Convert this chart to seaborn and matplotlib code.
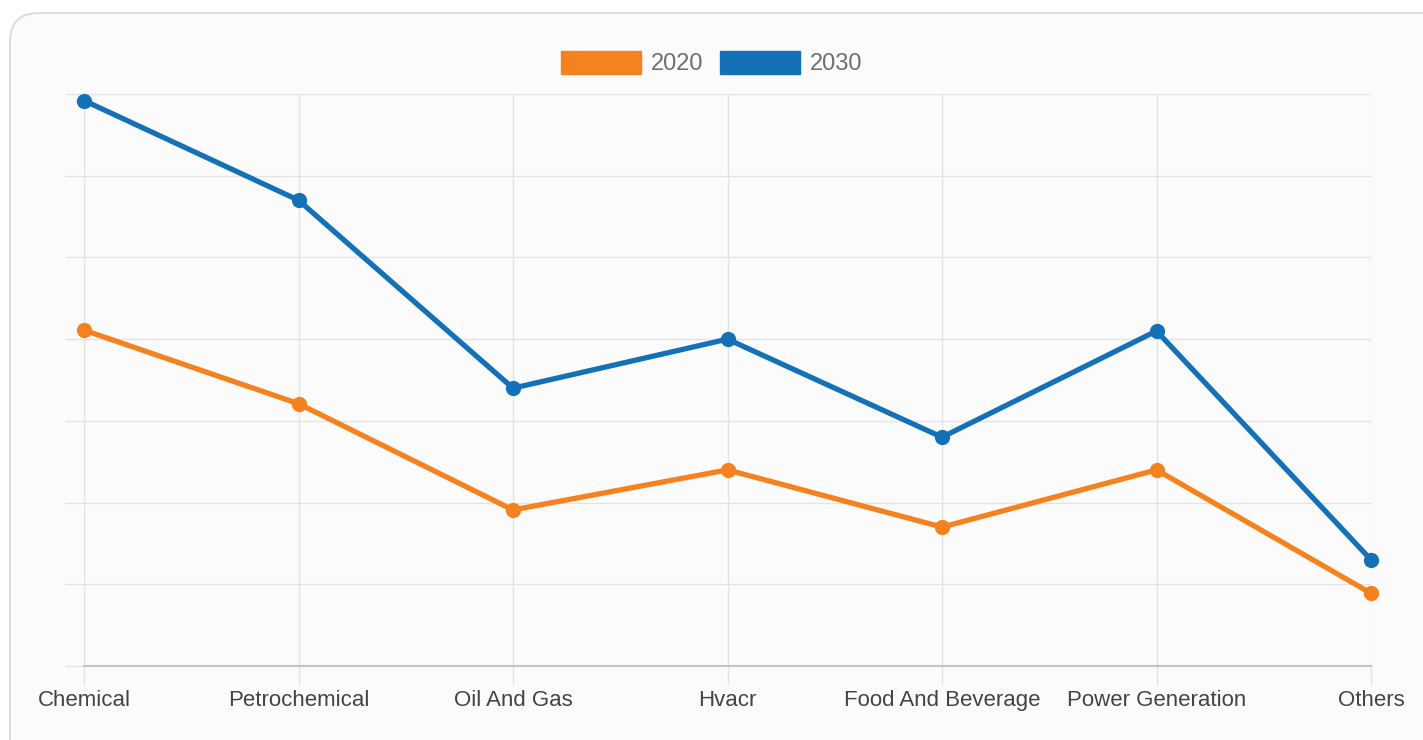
import matplotlib
matplotlib.use("Agg")
import matplotlib.pyplot as plt
import seaborn as sns
import pandas as pd
from matplotlib.patches import Patch, FancyBboxPatch

# data (units = gridline steps, axis has no value labels)
categories = ["Chemical", "Petrochemical", "Oil And Gas", "Hvacr",
              "Food And Beverage", "Power Generation", "Others"]
values_2020 = [4.11, 3.21, 1.91, 2.40, 1.70, 2.40, 0.89]
values_2030 = [6.92, 5.70, 3.40, 4.00, 2.80, 4.10, 1.30]
years = ["2020", "2030"]
colors = {"2020": "#f5821f", "2030": "#1471b8"}

df = pd.DataFrame({
    "segment": categories * 2,
    "value": values_2020 + values_2030,
    "year": [years[0]] * len(categories) + [years[1]] * len(categories),
})

sns.set_style("white")
plt.rcParams["font.family"] = ["Liberation Sans", "DejaVu Sans"]

fig = plt.figure(figsize=(14.23, 7.40), dpi=100)
fig.patch.set_facecolor("white")

# rounded card behind the chart
card = FancyBboxPatch((10 / 1423, -0.05), 1.2, 0.05 + 1 - 13 / 740,
                      boxstyle="round,pad=0,rounding_size=0.02",
                      transform=fig.transFigure, facecolor="#fbfbfb",
                      edgecolor="#dddddd", linewidth=1.5, zorder=-10,
                      mutation_aspect=1423 / 740)
fig.patches.append(card)

ax = fig.add_axes([84 / 1423, 1 - 666 / 740, (1371 - 84) / 1423, (666 - 94) / 740])
ax.set_facecolor("none")

sns.lineplot(data=df, x="segment", y="value", hue="year", palette=colors,
             marker="o", markersize=11, markeredgewidth=0, linewidth=3.8,
             sort=False, legend=False, ax=ax, zorder=3, clip_on=False)

ax.set_xlim(0, len(categories) - 1)
ax.set_ylim(0, 7)
ax.set_yticks(range(0, 8))
ax.set_yticklabels([])
ax.set_xlabel("")
ax.set_ylabel("")
ax.grid(True, color="#e3e3e3", linewidth=1)
ax.set_axisbelow(True)
for side in ["top", "right", "left"]:
    ax.spines[side].set_visible(False)
ax.spines["bottom"].set_color("#c4c4c4")
ax.spines["bottom"].set_linewidth(1.5)
ax.tick_params(axis="both", left=True, bottom=True, length=14,
               color="#e3e3e3", width=1)
ax.tick_params(axis="x", labelsize=16, labelcolor="#444444", pad=3)

handles = [Patch(facecolor=colors[y], edgecolor=colors[y], label=y) for y in years]
leg = fig.legend(handles=handles, loc="center", bbox_to_anchor=(0.5, 1 - 63 / 740),
                 ncol=2, frameon=False, fontsize=17, handlelength=3.4,
                 handleheight=1.15, handletextpad=0.4, columnspacing=0.7)
for t in leg.get_texts():
    t.set_color("#707070")

fig.savefig("out.png", dpi=100, facecolor="white")
